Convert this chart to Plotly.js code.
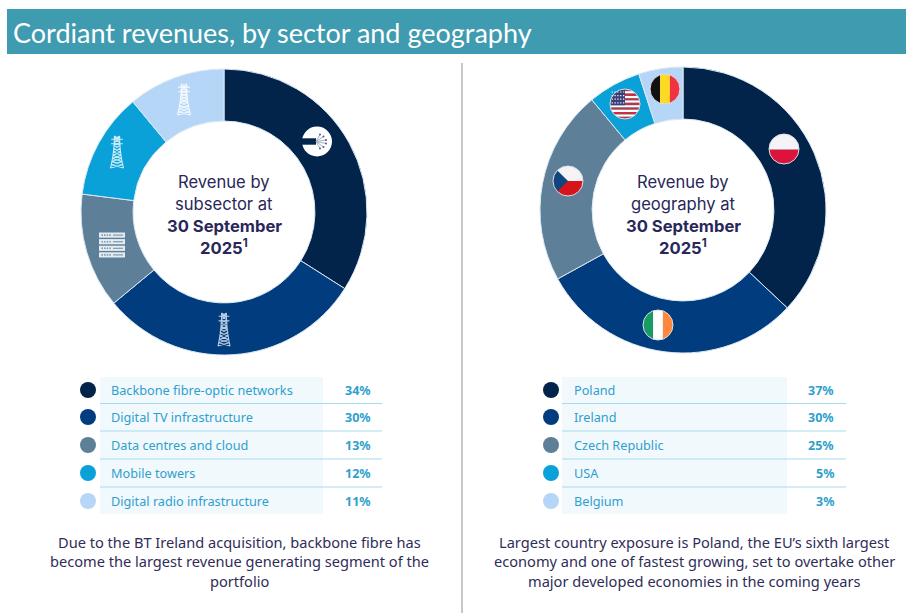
<!DOCTYPE html>
<html>
<head>
<meta charset="utf-8">
<script src="https://cdn.plot.ly/plotly-3.0.1.min.js"></script>
<style>html,body{margin:0;padding:0;background:#fff}#c{width:906px;height:613px}</style>
</head>
<body>
<div id="c"></div>
<script>
const pageTitle = "Cordiant revenues, by sector and geography";
const sectors = ["Backbone fibre-optic networks","Digital TV infrastructure","Data centres and cloud","Mobile towers","Digital radio infrastructure"];
const sectorValues = [34,30,13,12,11];
const countries = ["Poland","Ireland","Czech Republic","USA","Belgium"];
/* printed percentages in the table */
const countryValues = [37,30,25,5,3];
/* slice sizes as actually drawn in the reference ring, which differ from the printed figures */
const countrySliceShares = [37,30,22,6,5];
const sliceColors = ["#02234a","#003c7e","#5d7f98","#0aa1d8","#b6d6f8"];
const sectorCentre = ["Revenue by","subsector at","<b>30 September</b>","<b>2025<sup>1</sup></b>"];
const countryCentre = ["Revenue by","geography at","<b>30 September</b>","<b>2025<sup>1</sup></b>"];
const sectorNote = ["Due to the BT Ireland acquisition, backbone fibre has","become the largest revenue generating segment of the","portfolio"];
const countryNote = ["Largest country exposure is Poland, the EU’s sixth largest","economy and one of fastest growing, set to overtake other","major developed economies in the coming years"];

const W = 906, H = 613;
const rowY = [390,417,445,473,501];
const ruleY = [403.5,431,459,487];
const centreY = [182,204,226,247];
const noteY = [542,561,581];
const BODY = "'Noto Sans', sans-serif";
const CENTRE = "Inter, sans-serif";

const shapes = [], annotations = [], traces = [];

function domainFor(cx, cy, r){
  return {x:[(cx-r)/W,(cx+r)/W], y:[1-(cy+r)/H,1-(cy-r)/H]};
}
function addDonut(labels, values, cx, cy){
  traces.push({type:"pie", labels, values, sort:false, direction:"clockwise", rotation:0,
    hole:0.636, textinfo:"none", hoverinfo:"label+percent", showlegend:false,
    marker:{colors:sliceColors, line:{color:"#dbe8f2", width:1}}, domain:domainFor(cx,cy,143)});
}
function text(x,y,t,size,color,family,anchor){
  annotations.push({xref:"x",yref:"y",x,y,text:t,showarrow:false,xanchor:anchor||"center",yanchor:"middle",
    font:{size,color,family},borderpad:0,borderwidth:0});
}
function rect(x0,y0,x1,y1,fill,layer){
  shapes.push({type:"rect",xref:"x",yref:"y",x0,y0,x1,y1,fillcolor:fill,line:{width:0},layer:layer||"below"});
}
function addTable(labels, values, dotX, panelL, panelR, ruleR, textX, pctX){
  rect(panelL,377,panelR,514,"#f1f9fd");
  ruleY.forEach(y=>shapes.push({type:"line",xref:"x",yref:"y",x0:panelL,x1:ruleR,y0:y,y1:y,line:{color:"#a6dcee",width:1},layer:"below"}));
  traces.push({type:"scatter",mode:"markers",x:rowY.map(()=>dotX),y:rowY,
    marker:{size:16,color:sliceColors,line:{width:0}},hoverinfo:"skip",showlegend:false,xaxis:"x",yaxis:"y"});
  labels.forEach((l,i)=>{
    text(textX,rowY[i],l,12.7,"#2f9fce",BODY,"left");
    text(pctX,rowY[i],"<b>"+values[i]+"%</b>",12.5,"#2f9fce",BODY,"right");
  });
}
function addCentre(lines,cx){
  lines.forEach((t,i)=>text(cx,centreY[i],t,16.6,"#29275a",CENTRE));
}
function addNote(lines,cx){
  lines.forEach((t,i)=>text(cx,noteY[i],t,14.6,"#2f2d58",BODY));
}

/* icon helpers */
function pathFrom(pts){return "M"+pts.map(p=>p[0].toFixed(2)+" "+p[1].toFixed(2)).join("L")+"Z";}
function circlePts(){const a=[];for(let i=0;i<72;i++){const t=i/72*2*Math.PI;a.push([Math.cos(t),Math.sin(t)]);}return a;}
function clip(subject,convex){
  let out=subject;
  let area=0;
  convex.forEach((p,i)=>{const q=convex[(i+1)%convex.length];area+=p[0]*q[1]-q[0]*p[1];});
  const sign=area>0?1:-1;
  for(let i=0;i<convex.length;i++){
    const a=convex[i],b=convex[(i+1)%convex.length];
    const side=p=>sign*((b[0]-a[0])*(p[1]-a[1])-(b[1]-a[1])*(p[0]-a[0]));
    const res=[];
    for(let j=0;j<out.length;j++){
      const s=out[j],e=out[(j+1)%out.length],ds=side(s),de=side(e);
      if(ds>=0)res.push(s);
      if((ds>=0)!==(de>=0)){const t=ds/(ds-de);res.push([s[0]+t*(e[0]-s[0]),s[1]+t*(e[1]-s[1])]);}
    }
    out=res;
    if(!out.length)break;
  }
  return out;
}
function band(x0,y0,x1,y1){return [[x0,y0],[x1,y0],[x1,y1],[x0,y1]];}
function fillPath(d,color){shapes.push({type:"path",xref:"x",yref:"y",path:d,fillcolor:color,line:{width:0},layer:"above"});}
function flag(cx,cy,r,parts,stars){
  const c=circlePts();
  parts.forEach(([color,poly])=>{
    const pts=clip(c,poly).map(p=>[cx+p[0]*r,cy+p[1]*r]);
    if(pts.length)fillPath(pathFrom(pts),color);
  });
  if(stars)stars.forEach(s=>{
    const x=cx+s[0]*r,y=cy+s[1]*r;
    fillPath(pathFrom([[x-.6,y-.6],[x+.6,y-.6],[x+.6,y+.6],[x-.6,y+.6]]),"#ffffff");
  });
  shapes.push({type:"circle",xref:"x",yref:"y",x0:cx-r,x1:cx+r,y0:cy-r,y1:cy+r,fillcolor:"rgba(0,0,0,0)",line:{color:"#d9dfe6",width:1},layer:"above"});
}
function tower(cx,top,bottom,halfW,color){
  const h=bottom-top;
  const segs=[];
  const xAt=y=>{const f=(y-top)/h;return halfW*(0.4+0.6*f*f);};
  for(const s of [-1,1]){
    let d="M"+(cx+s*xAt(top))+" "+top;
    for(let i=1;i<=8;i++){const y=top+h*i/8;d+="L"+(cx+s*xAt(y))+" "+y;}
    segs.push(d);
  }
  const n=10;
  for(let i=0;i<n;i++){
    const y0=top+h*i/n,y1=top+h*(i+1)/n;
    const a=xAt(y0),b=xAt(y1);
    segs.push("M"+(cx-a)+" "+y0+"L"+(cx+b)+" "+y1+"M"+(cx+a)+" "+y0+"L"+(cx-b)+" "+y1);
  }
  const armY=[top+h*.1,top+h*.24];
  armY.forEach(y=>segs.push("M"+(cx-halfW*.9)+" "+y+"L"+(cx+halfW*.9)+" "+y));
  shapes.push({type:"path",xref:"x",yref:"y",path:segs.join(""),line:{color,width:1.1},layer:"above"});
}
function server(cx,cy,w,rows,color,bg){
  const rh=5.2,gap=1.4;
  const total=rows*rh+(rows-1)*gap;
  for(let i=0;i<rows;i++){
    const y=cy-total/2+i*(rh+gap);
    shapes.push({type:"rect",xref:"x",yref:"y",x0:cx-w/2,x1:cx+w/2,y0:y,y1:y+rh,fillcolor:color,line:{width:0},layer:"above"});
    for(let k=0;k<4;k++){
      const x=cx-w/2+2.5+k*2.6;
      shapes.push({type:"rect",xref:"x",yref:"y",x0:x,x1:x+1.5,y0:y+1.8,y1:y+3.4,fillcolor:bg,line:{width:0},layer:"above"});
    }
    shapes.push({type:"rect",xref:"x",yref:"y",x0:cx+1,x1:cx+w/2-2,y0:y+2,y1:y+3.2,fillcolor:bg,line:{width:0},layer:"above"});
  }
}
function fibre(cx,cy,r,bg){
  shapes.push({type:"circle",xref:"x",yref:"y",x0:cx-r,x1:cx+r,y0:cy-r,y1:cy+r,fillcolor:"#ffffff",line:{width:0},layer:"above"});
  shapes.push({type:"rect",xref:"x",yref:"y",x0:cx-r,x1:cx-1,y0:cy-3.2,y1:cy+3.2,fillcolor:bg,line:{width:0},layer:"above"});
  const tips=[[3,-7],[6.5,-5],[9,-1.5],[9,2],[6.5,5.5],[3,7]];
  const lines=tips.map(t=>"M"+(cx-1)+" "+cy+"L"+(cx+t[0])+" "+(cy+t[1])).join("");
  shapes.push({type:"path",xref:"x",yref:"y",path:lines,line:{color:"#a3b2c4",width:1},layer:"above"});
  tips.forEach(t=>shapes.push({type:"circle",xref:"x",yref:"y",x0:cx+t[0]-1,x1:cx+t[0]+1,y0:cy+t[1]-1,y1:cy+t[1]+1,fillcolor:"#4a6484",line:{width:0},layer:"above"}));
}

/* page furniture */
rect(7,9,906,54,"#3f9bb0");
text(13,32.5,pageTitle,27,"#ffffff","Lato, sans-serif","left");
shapes.push({type:"line",xref:"x",yref:"y",x0:462,x1:462,y0:63,y1:613,line:{color:"#b4b4b4",width:1.5},layer:"below"});

/* charts */
addDonut(sectors,sectorValues,224,212);
addDonut(countries,countrySliceShares,683,210);
addTable(sectors,sectorValues,88,100,323,382,111,371);
addTable(countries,countryValues,551,562,787,846,574,834);
addCentre(sectorCentre,224);
addCentre(countryCentre,683);
addNote(sectorNote,239);
addNote(countryNote,694);

/* left donut icons */
fibre(317,141.5,15,"#02234a");
tower(224,313,346,6,"rgba(230,240,250,.8)");
tower(117,136,168,6.5,"rgba(235,248,255,.85)");
tower(184,84,115,6.5,"rgba(255,255,255,.85)");
server(112,245,26,4,"#e4ebf1","#7f98ad");

/* right donut flags */
flag(784,149,15,[["#f4f4f6",band(-1,-1,1,0.05)],["#dc143c",band(-1,0.05,1,1)]]);
flag(658,325,15,[["#169b62",band(-1,-1,-0.33,1)],["#ffffff",band(-0.33,-1,0.33,1)],["#ff883e",band(0.33,-1,1,1)]]);
flag(568,181,15,[["#f4f4f6",band(-1,-1,1,0)],["#d7141a",band(-1,0,1,1)],["#11457e",[[-1,-1],[0,0],[-1,1]]]]);
const stripes=[];
for(let i=0;i<13;i++){stripes.push([i%2?"#ffffff":"#c8313e",band(-1,-1+i*2/13,1,-1+(i+1)*2/13)]);}
stripes.push(["#3a3f78",band(-1,-1,0,0.08)]);
const starDots=[];
for(let j=0;j<4;j++){for(let k=0;k<5;k++){starDots.push([-0.85+k*0.19,-0.8+j*0.24]);}}
flag(625,104,15,stripes,starDots);
flag(665,89,15,[["#111111",band(-1,-1,-0.33,1)],["#fdda24",band(-0.33,-1,0.33,1)],["#ef3340",band(0.33,-1,1,1)]]);

Plotly.newPlot("c",traces,{
  width:W,height:H,margin:{l:0,r:0,t:0,b:0,pad:0},
  paper_bgcolor:"#ffffff",plot_bgcolor:"rgba(0,0,0,0)",showlegend:false,
  xaxis:{range:[0,W],visible:false,fixedrange:true},
  yaxis:{range:[H,0],visible:false,fixedrange:true},
  shapes,annotations
},{displayModeBar:false,staticPlot:true});
</script>
</body>
</html>
